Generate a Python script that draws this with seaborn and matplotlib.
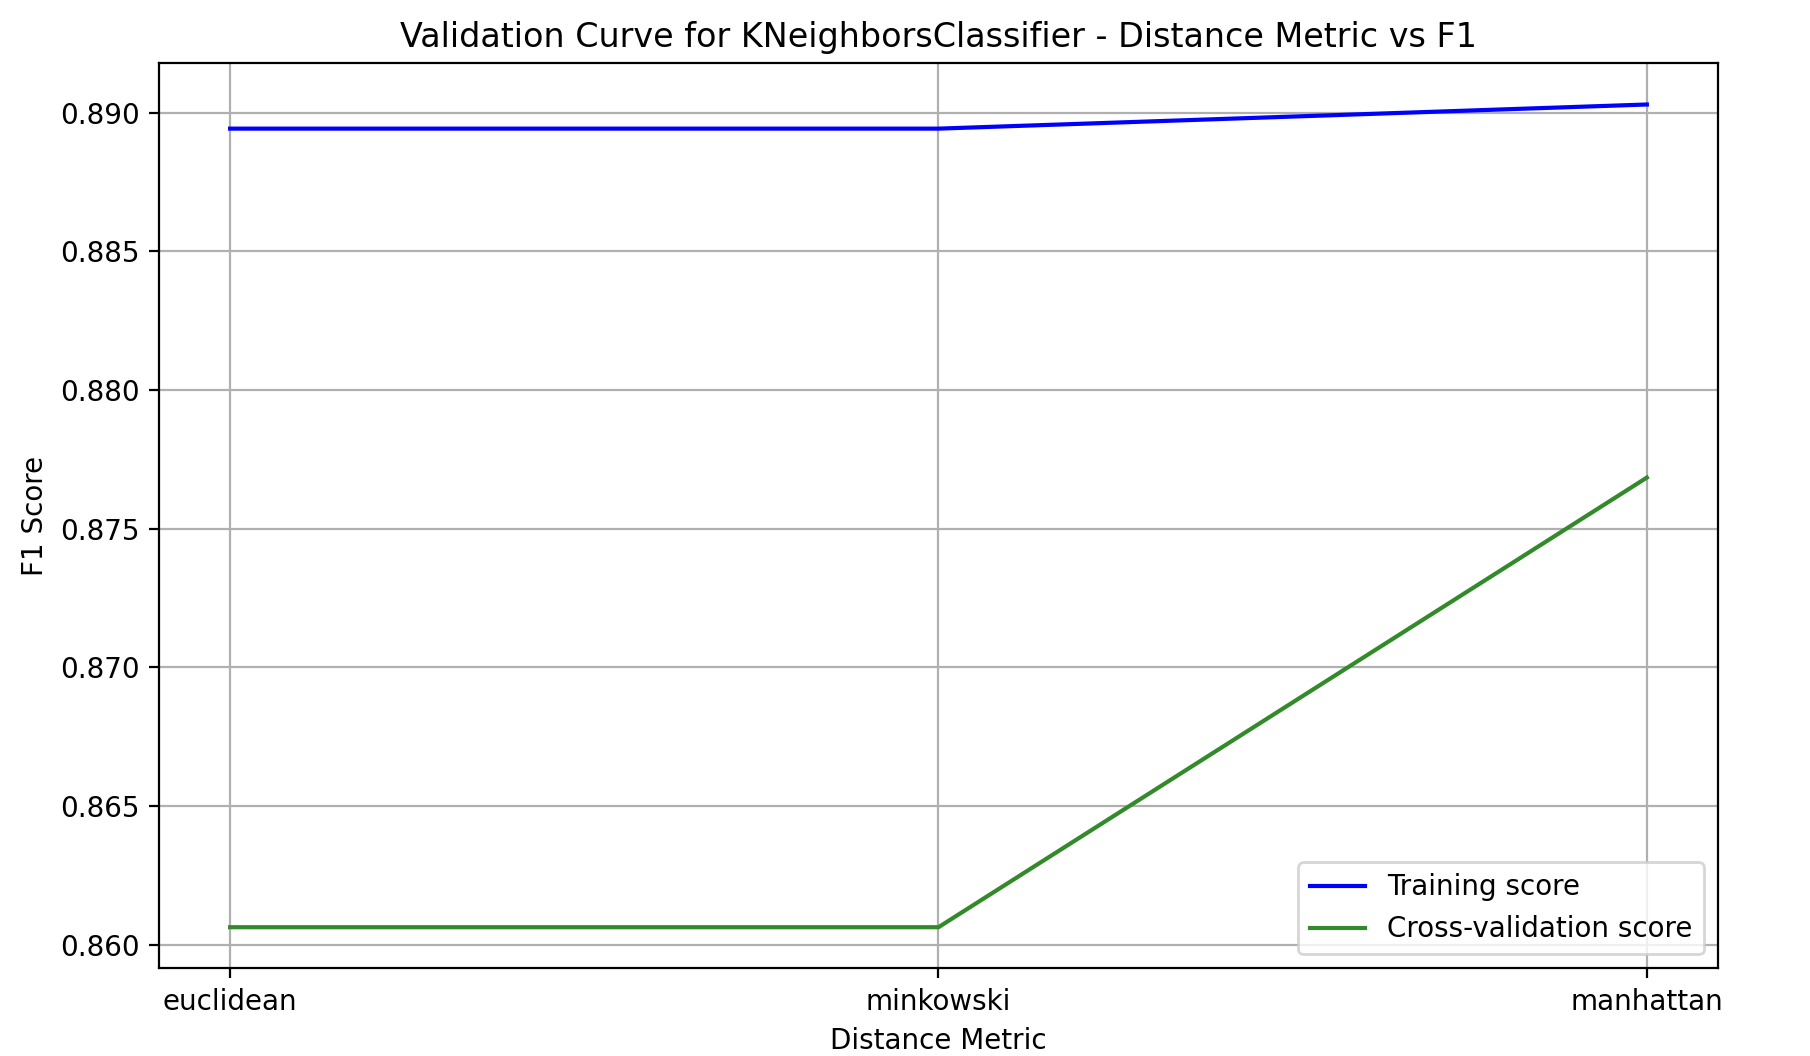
import matplotlib
matplotlib.use("Agg")
import matplotlib.pyplot as plt
import seaborn as sns

# values
metrics = ["euclidean", "minkowski", "manhattan"]
train_scores = [0.88942, 0.88942, 0.89029]
cv_scores = [0.86063, 0.86063, 0.87684]

fig = plt.figure(figsize=(9.05, 5.28), dpi=200)
ax = fig.add_axes([0.088, 0.083, 0.861, 0.857])

sns.lineplot(x=metrics, y=train_scores, color="blue", label="Training score", ax=ax, sort=False)
sns.lineplot(x=metrics, y=cv_scores, color="#338a2a", label="Cross-validation score", ax=ax, sort=False)

ax.set_title("Validation Curve for KNeighborsClassifier - Distance Metric vs F1", fontsize=12)
ax.set_xlabel("Distance Metric")
ax.set_ylabel("F1 Score")
ax.grid(True)
ax.legend(loc="lower right")

fig.savefig("out.png", dpi=200)
